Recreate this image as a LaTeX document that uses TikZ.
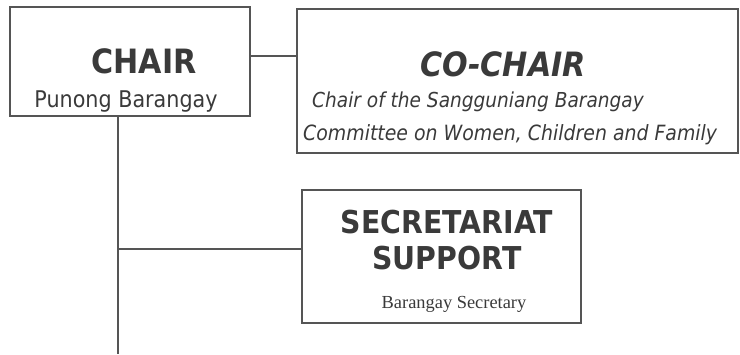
\documentclass[tikz,border=0pt]{standalone}
\usepackage{fontspec}
\setmainfont{DejaVu Sans}[FakeStretch=0.9]
\newfontfamily\secfont{Liberation Serif}

\definecolor{ink}{HTML}{3A3A3A}
\definecolor{rule}{HTML}{555555}

\begin{document}
\begin{tikzpicture}[
    x=1pt,y=-1pt,
    box/.style={rectangle,draw=rule,line width=1.4pt,inner sep=0pt},
    head/.style={inner sep=0pt,text=ink,font=\bfseries\fontsize{33}{36}\selectfont},
    sub/.style={inner sep=0pt,text=ink,font=\fontsize{23}{26}\selectfont},
    note/.style={inner sep=0pt,anchor=west,text=ink,font=\itshape\fontsize{21}{24}\selectfont},
    conn/.style={draw=rule,line width=1.4pt}
    ]
    \useasboundingbox (0,0) rectangle (740,354);
    % boxes
    \node (chair) [box,minimum width=240pt,minimum height=109pt] at (130,61.5) {};
    \node (cochair) [box,minimum width=441pt,minimum height=144pt] at (517.5,81) {};
    \node (sec) [box,minimum width=279pt,minimum height=133pt] at (441.5,256.5) {};
    % texts
    \node (chairt) [head,font=\bfseries\fontsize{33.5}{36}\selectfont] at (144,61) {CHAIR};
    \node (chairs) [sub] at (126,102) {Punong Barangay};
    \node (cochairt) [head,font=\bfseries\itshape\fontsize{33.5}{36}\selectfont] at (503,64) {CO-CHAIR};
    \node (cochair1) [note,font=\itshape\fontsize{20.6}{24}\selectfont] at (312,102) {Chair of the Sangguniang Barangay};
    \node (cochair2) [note] at (303,135) {Committee on Women, Children and Family};
    \node (sect) [head,font=\bfseries\fontsize{31.5}{34}\selectfont] at (447,222) {SECRETARIAT};
    \node (secu) [head,font=\bfseries\fontsize{31.5}{34}\selectfont] at (447,258) {SUPPORT};
    \node (secs) [inner sep=0pt,text=ink,font=\secfont\fontsize{18.4}{21}\selectfont] at (454,304) {Barangay Secretary};
    % lines
    \coordinate (foot) at (118,354);
    \path ([yshift=5.5pt]chair.east) coordinate (c1);
    \path ([yshift=7.5pt]sec.west) coordinate (s1);
    \draw[conn] (c1) -- (c1 -| cochair.west);
    \draw[conn] (chair.south -| foot) -- (foot);
    \draw[conn] (s1 -| foot) -- (s1);
\end{tikzpicture}
\end{document}
